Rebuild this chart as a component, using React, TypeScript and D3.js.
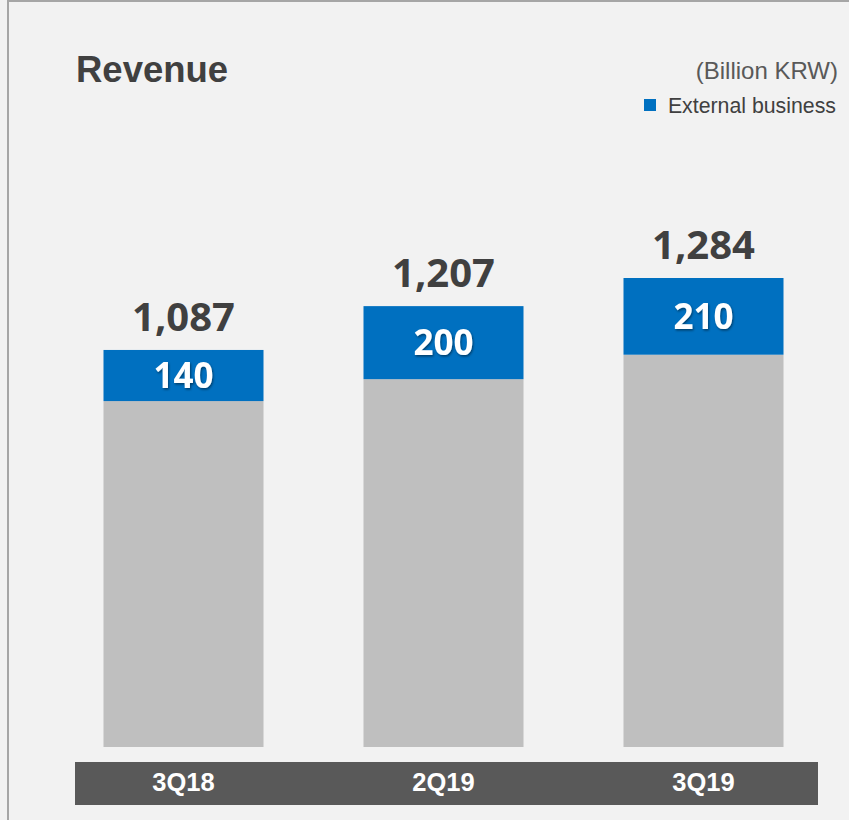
import React from "react";
import * as d3 from "d3";

const categories = ["3Q18", "2Q19", "3Q19"];
const totals = [1087, 1207, 1284];
const external = [140, 200, 210];
const title = "Revenue";
const unitLabel = "(Billion KRW)";
const legendLabel = "External business";

const W = 849;
const H = 820;

export default function App() {
  const x = d3
    .scaleBand<string>()
    .domain(categories)
    .range([53.5, 833.5])
    .paddingInner(0.3846)
    .paddingOuter(0.1923);
  const y = d3.scaleLinear().domain([0, d3.max(totals) as number]).range([747, 278]);
  const fmt = d3.format(",");
  const numFont = "'Open Sans', 'DejaVu Sans', sans-serif";
  const arial = "'Liberation Sans', Arial, sans-serif";

  return (
    <svg
      width={W}
      height={H}
      viewBox={`0 0 ${W} ${H}`}
      style={{ position: "absolute", left: 0, top: 0, display: "block" }}
    >
      <defs>
        <filter id="ts" x="-20%" y="-20%" width="140%" height="140%">
          <feDropShadow dx="1" dy="1.5" stdDeviation="0.8" floodColor="#000" floodOpacity="0.45" />
        </filter>
      </defs>
      <rect x={0} y={0} width={W} height={H} fill="#f2f2f2" />
      <rect x={8} y={1} width={W + 20} height={H + 20} fill="#f2f2f2" stroke="#a6a6a6" strokeWidth={2} />

      <text x={76} y={82} fontFamily={arial} fontWeight={700} fontSize={36.5} fill="#404040">
        {title}
      </text>
      <text x={838} y={79} textAnchor="end" fontFamily={arial} fontSize={24} fill="#595959">
        {unitLabel}
      </text>
      <rect x={644} y={99} width={12} height={12} fill="#0070c0" />
      <text x={836} y={113} textAnchor="end" fontFamily={arial} fontSize={21.3} fill="#404040">
        {legendLabel}
      </text>

      {categories.map((c, i) => {
        const bx = x(c) as number;
        const bw = x.bandwidth();
        const internal = totals[i] - external[i];
        const yTop = y(totals[i]);
        const yMid = y(internal);
        const yBase = y(0);
        const cx = bx + bw / 2;
        return (
          <g key={c}>
            <rect x={bx} y={yMid} width={bw} height={yBase - yMid} fill="#bfbfbf" />
            <rect x={bx} y={yTop} width={bw} height={yMid - yTop} fill="#0070c0" />
            <text
              x={cx}
              y={yTop - 19}
              textAnchor="middle"
              fontFamily={numFont}
              fontWeight={700}
              fontSize={40}
              fill="#404040"
            >
              {fmt(totals[i])}
            </text>
            <text
              x={cx}
              y={(yTop + yMid) / 2}
              dy="0.36em"
              textAnchor="middle"
              fontFamily={numFont}
              fontWeight={700}
              fontSize={35}
              fill="#ffffff"
              filter="url(#ts)"
            >
              {fmt(external[i])}
            </text>
          </g>
        );
      })}

      <rect x={75} y={762} width={743} height={43} fill="#595959" />
      {categories.map((c) => (
        <text
          key={"l" + c}
          x={(x(c) as number) + x.bandwidth() / 2}
          y={791}
          textAnchor="middle"
          fontFamily={arial}
          fontWeight={700}
          fontSize={25.5}
          fill="#ffffff"
        >
          {c}
        </text>
      ))}
    </svg>
  );
}
